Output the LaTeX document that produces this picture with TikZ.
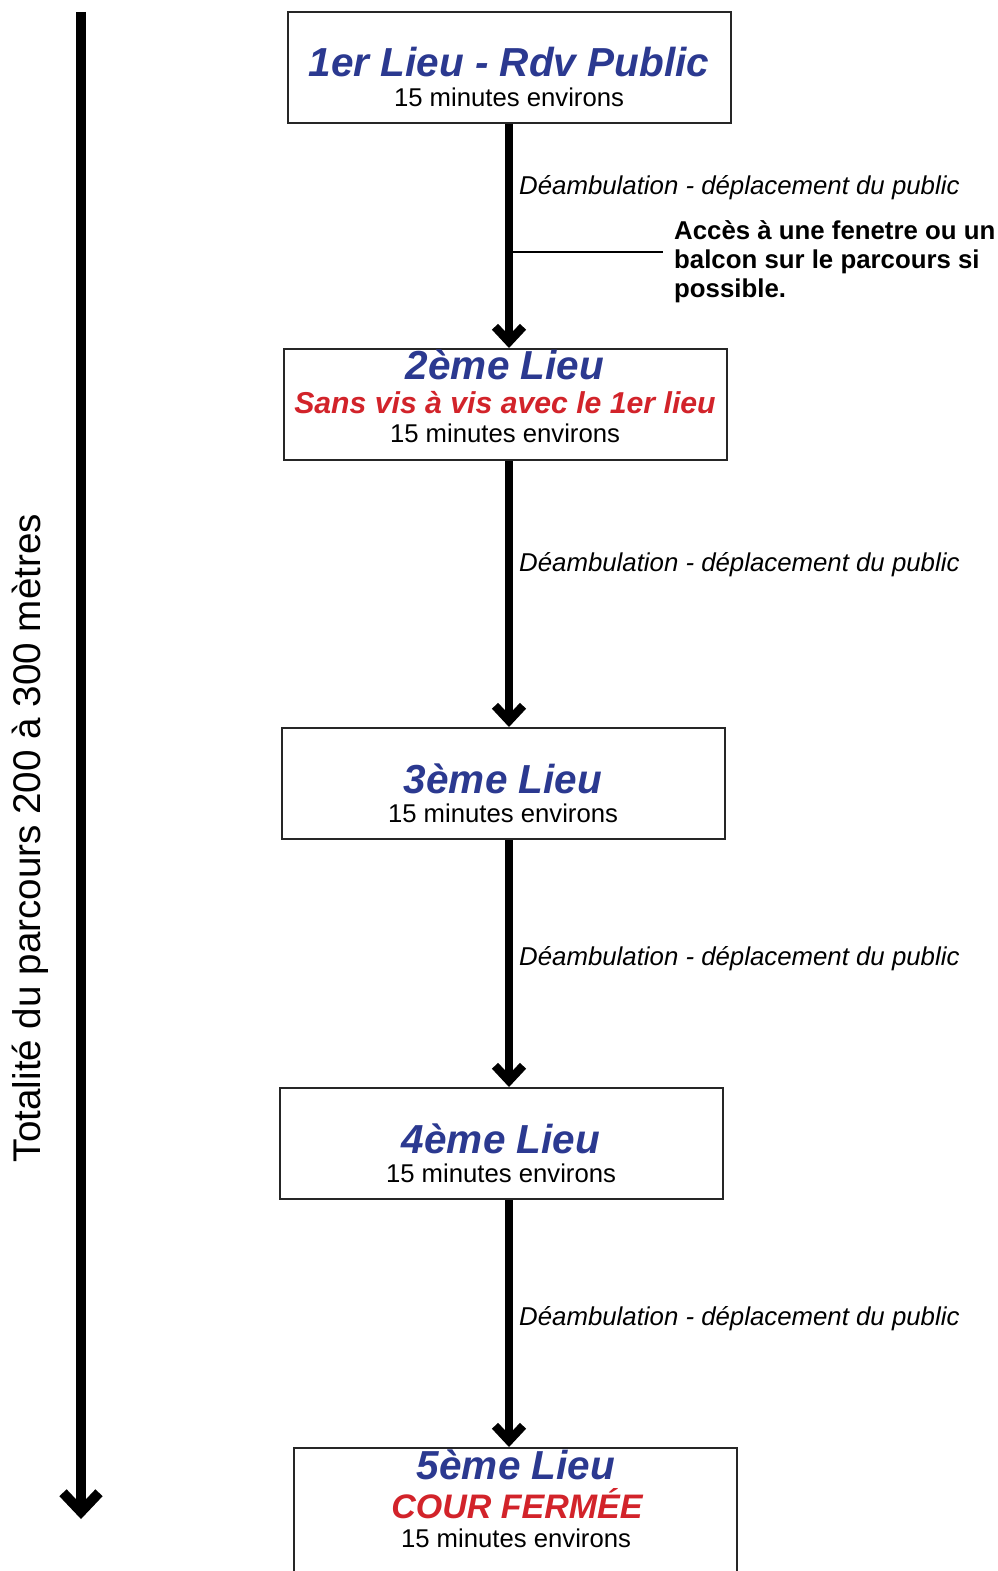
\documentclass[tikz,border=0pt]{standalone}
\usepackage{fontspec}
\setmainfont{Liberation Sans}
\usetikzlibrary{arrows.meta}
\definecolor{lieublue}{HTML}{2B3990}
\definecolor{lieured}{HTML}{D2232A}
\begin{document}
\begin{tikzpicture}[x=1pt,y=-1pt,
  lieubox/.style={draw=black!85,line width=2pt,minimum width=443pt,minimum height=111pt,inner sep=0pt,anchor=north west},
  title/.style={font=\fontsize{40.5}{40.5}\selectfont\bfseries\itshape,text=lieublue,anchor=base,inner sep=0pt},
  redline/.style={font=\fontsize{30.2}{30.2}\selectfont\bfseries\itshape,text=lieured,anchor=base,inner sep=0pt},
  dur/.style={font=\fontsize{25.7}{25.7}\selectfont,anchor=base,inner sep=0pt},
  move/.style={font=\fontsize{25.8}{25.8}\selectfont\itshape,anchor=base west,inner sep=0pt},
  flow/.style={line width=8pt,-{Straight Barb[length=15pt,width=28pt,line width=8.5pt]}},
]
\useasboundingbox (0,0) rectangle (998,1571);
\clip (0,0) rectangle (998,1571);

% boxes
\node[lieubox] (b1) at (287,11) {};
\node[lieubox] (b2) at (283,348) {};
\node[lieubox] (b3) at (281,727) {};
\node[lieubox] (b4) at (279,1087) {};
\node[lieubox,minimum height=160pt] (b5) at (293,1447) {};

% texts
\node[title] (t1) at (509,77) {1er Lieu - Rdv Public};
\node[dur] (d1) at (509,106) {15 minutes environs};

\node[title] (t2) at (505,379) {2ème Lieu};
\node[redline] (r2) at (505,413) {Sans vis à vis avec le 1er lieu};
\node[dur] (d2) at (505,442) {15 minutes environs};

\node[title] (t3) at (503,793) {3ème Lieu};
\node[dur] (d3) at (503,822) {15 minutes environs};

\node[title] (t4) at (501,1153) {4ème Lieu};
\node[dur] (d4) at (501,1182) {15 minutes environs};

\node[title] (t5) at (516,1479) {5ème Lieu};
\node[redline,font=\fontsize{34}{34}\selectfont\bfseries\itshape] (r5) at (517,1518) {COUR FERMÉE};
\node[dur] (d5) at (516,1547) {15 minutes environs};

% connectors
\coordinate (ax) at (509,0);
\draw[flow] (b1.south -| ax) -- (b2.north -| ax);
\draw[flow] (b2.south -| ax) -- (b3.north -| ax);
\draw[flow] (b3.south -| ax) -- (b4.north -| ax);
\draw[flow] (b4.south -| ax) -- (b5.north -| ax);

% move labels
\node[move] (m1) at (519,194) {Déambulation - déplacement du public};
\node[move] (m2) at (519,571) {Déambulation - déplacement du public};
\node[move] (m3) at (519,965) {Déambulation - déplacement du public};
\node[move] (m4) at (519,1325) {Déambulation - déplacement du public};

% annotation
\node[font=\fontsize{25.8}{29}\selectfont\bfseries,align=left,anchor=north west,inner sep=0pt] (note) at (674,220) {Accès à une fenetre ou un\\balcon sur le parcours si\\possible.};
\coordinate (n0) at (512,252);
\coordinate (n1) at (663,252);
\draw[line width=2pt] (n0) -- (n1);

% overall arrow
\coordinate (ls) at (81,12);
\coordinate (le) at (81,1519);
\draw[line width=10pt,-{Straight Barb[length=19pt,width=36pt,line width=10pt]}] (ls) -- (le);
\node[rotate=90,font=\fontsize{38.6}{38.6}\selectfont,inner sep=0pt] (total) at (30,838) {Totalité du parcours 200 à 300 mètres};
\end{tikzpicture}
\end{document}
